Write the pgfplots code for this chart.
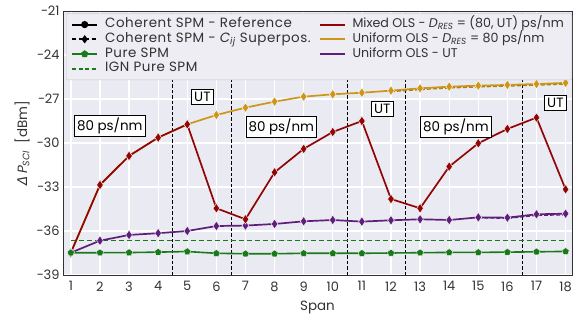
\documentclass[border=0pt]{standalone}
\usepackage{pgfplots}
\pgfplotsset{compat=1.18}
\usetikzlibrary{shapes.geometric}
\usepackage{fontspec}
\setmainfont{Poppins}
\newfontfamily\legfont{Poppins}[LetterSpace=4]
\newfontfamily\dejavu{DejaVu Sans}
\newcommand{\lf}{\legfont\fontsize{13.5}{14}\selectfont}
\definecolor{bgc}{RGB}{234,234,242}
\definecolor{axc}{RGB}{50,50,50}
\definecolor{legfill}{RGB}{237,237,243}
\definecolor{legdraw}{RGB}{205,205,205}
\definecolor{cred}{RGB}{145,5,5}
\definecolor{corange}{RGB}{205,150,25}
\definecolor{cpurple}{RGB}{95,30,122}
\definecolor{cgreen}{RGB}{25,122,25}
\pgfplotstableread{
x ut u80 mixed pure
1 -37.48 -37.48 -37.48 -37.48
2 -36.66 -32.86 -32.86 -37.48
3 -36.27 -30.88 -30.88 -37.47
4 -36.15 -29.63 -29.63 -37.44
5 -36.00 -28.73 -28.73 -37.40
6 -35.66 -28.09 -34.45 -37.52
7 -35.63 -27.59 -35.20 -37.55
8 -35.52 -27.18 -32.00 -37.55
9 -35.34 -26.84 -30.40 -37.52
10 -35.25 -26.68 -29.25 -37.52
11 -35.36 -26.57 -28.50 -37.52
12 -35.27 -26.43 -33.82 -37.50
13 -35.20 -26.27 -34.45 -37.48
14 -35.25 -26.16 -31.61 -37.46
15 -35.07 -26.09 -30.02 -37.46
16 -35.09 -26.04 -29.04 -37.44
17 -34.86 -25.98 -28.27 -37.42
18 -34.82 -25.90 -33.16 -37.39
}\datatab
\pgfplotsset{
  dmarks/.style={forget plot, draw=none, no marks, nodes near coords={},
    every node near coord/.style={shape=diamond, fill=#1, draw=white, line width=0.4bp,
      inner sep=0pt, minimum width=6.8bp, minimum height=9.8bp, anchor=center}},
  pmarks/.style={forget plot, draw=none, no marks, nodes near coords={},
    every node near coord/.style={shape=regular polygon, regular polygon sides=5, fill=#1, draw=white, line width=0.3bp,
      inner sep=0pt, minimum size=7.5bp, anchor=center}},
}
\begin{document}
\begin{tikzpicture}
\useasboundingbox (-63bp,-39bp) rectangle (510bp,275bp);
\begin{axis}[
  at={(0,0)}, anchor=south west, scale only axis,
  width=509bp, height=264bp,
  xmin=0.73, xmax=18.22, ymin=-39, ymax=-21,
  xtick={1,...,18},
  ytick={-39,-36,-33,-30,-27,-24,-21},
  yticklabels={−39,−36,−33,−30,−27,−24,−21},
  /pgf/number format/assume math mode=true,
  grid=major, major grid style={white, line width=1.3bp},
  axis background/.style={fill=bgc},
  axis line style={draw=axc, line width=1bp},
  major tick length=0pt,
  tick label style={font=\fontsize{13}{15}\selectfont, text=axc},
  xticklabel style={yshift=-3bp},
  label style={font=\fontsize{13.5}{15}\selectfont, text=axc},
  xlabel style={yshift=-3bp},
  xlabel={Span},
  ylabel={{\dejavu\itshape Δ}\,{\itshape P}\textsubscript{\itshape SCI}\ \ [dBm]},
  legend columns=2,
  legend cell align=left,
  legend style={at={(0.006,0.992)}, anchor=north west, fill=legfill, draw=legdraw,
    rounded corners=2bp, font=\fontsize{12.7}{14}\selectfont, text=axc, row sep=1.2bp,
    inner xsep=5bp, inner ysep=4.5bp,
    nodes={inner xsep=3bp, inner ysep=0.5bp, text height=9.5bp, text depth=3bp},
    /tikz/every odd column/.append style={column sep=4bp},
    /tikz/every even column/.append style={column sep=5bp}},
  legend image code/.code={\draw[mark repeat=2,mark phase=2,#1] plot coordinates {(0bp,0bp)(12.5bp,0bp)(25bp,0bp)};},
]
\addlegendimage{black, line width=1.9bp, mark=*, mark size=2.6bp}
\addlegendentry{\lf Coherent SPM - Reference}
\addlegendimage{cred, line width=1.9bp}
\addlegendentry{Mixed OLS - {\itshape D}\textsubscript{\itshape RES} = (80, UT) ps/nm}
\addlegendimage{black, line width=1.9bp, dash pattern=on 4bp off 2.5bp, mark=diamond*, mark size=2.6bp, mark options={solid}}
\addlegendentry{\lf Coherent SPM - {\itshape C}\textsubscript{\itshape ij} Superpos.}
\addlegendimage{corange, line width=1.9bp}
\addlegendentry{Uniform OLS - {\itshape D}\textsubscript{\itshape RES} = 80 ps/nm}
\addlegendimage{cgreen, line width=1.9bp, mark=pentagon*, mark size=2.6bp}
\addlegendentry{\lf Pure SPM}
\addlegendimage{cpurple, line width=1.9bp}
\addlegendentry{Uniform OLS - UT}
\addlegendimage{cgreen, line width=1.9bp, dash pattern=on 4bp off 2.5bp}
\addlegendentry{\lf IGN Pure SPM}

% vertical separators
\addplot[forget plot, black, line width=0.8bp, dash pattern=on 3.5bp off 2bp] coordinates {(4.5,-39)(4.5,-21)};
\addplot[forget plot, black, line width=0.8bp, dash pattern=on 3.5bp off 2bp] coordinates {(6.5,-39)(6.5,-21)};
\addplot[forget plot, black, line width=0.8bp, dash pattern=on 3.5bp off 2bp] coordinates {(10.5,-39)(10.5,-21)};
\addplot[forget plot, black, line width=0.8bp, dash pattern=on 3.5bp off 2bp] coordinates {(12.5,-39)(12.5,-21)};
\addplot[forget plot, black, line width=0.8bp, dash pattern=on 3.5bp off 2bp] coordinates {(16.5,-39)(16.5,-21)};

% IGN pure SPM
\addplot[forget plot, cgreen, line width=1.6bp, dash pattern=on 5bp off 3bp] coordinates {(1,-36.66)(18,-36.66)};

% Uniform OLS - UT
\addplot[forget plot, cpurple, line width=1.7bp, no marks] table[x=x,y=ut] {\datatab};
\addplot[forget plot, cpurple, line width=1.2bp, dash pattern=on 4bp off 2bp, no marks] coordinates {
(15,-35.1)(16,-35.14)(17,-34.94)(18,-34.9)};
\addplot[dmarks=cpurple] table[x=x,y=ut] {\datatab};

% Uniform OLS - 80 ps/nm
\addplot[forget plot, corange, line width=1.7bp, no marks] table[x=x,y=u80] {\datatab};
\addplot[forget plot, corange!85!black, line width=1.2bp, dash pattern=on 4bp off 2bp, no marks] coordinates {
(12,-26.5)(13,-26.36)(14,-26.25)(15,-26.18)(16,-26.12)(17,-26.06)(18,-25.98)};
\addplot[dmarks=corange] table[x=x,y=u80] {\datatab};

% Mixed OLS
\addplot[forget plot, cred, line width=1.7bp, no marks] table[x=x,y=mixed] {\datatab};
\addplot[dmarks=cred] table[x=x,y=mixed] {\datatab};

% Pure SPM
\addplot[forget plot, cgreen, line width=1.6bp, no marks] table[x=x,y=pure] {\datatab};
\addplot[pmarks=cgreen] table[x=x,y=pure] {\datatab};

% annotation boxes
\tikzset{ann/.style={draw=black, fill=white, line width=0.6bp, inner sep=2.5bp, font=\fontsize{13.5}{15}\selectfont}}
\node[ann] at (axis cs:2.34,-28.84) {80 ps/nm};
\node[ann] at (axis cs:5.52,-26.86) {UT};
\node[ann] at (axis cs:8.23,-28.9) {80 ps/nm};
\node[ann] at (axis cs:11.7,-27.68) {UT};
\node[ann] at (axis cs:14.23,-28.9) {80 ps/nm};
\node[ann] at (axis cs:17.65,-27.27) {UT};
\end{axis}
\end{tikzpicture}
\end{document}
